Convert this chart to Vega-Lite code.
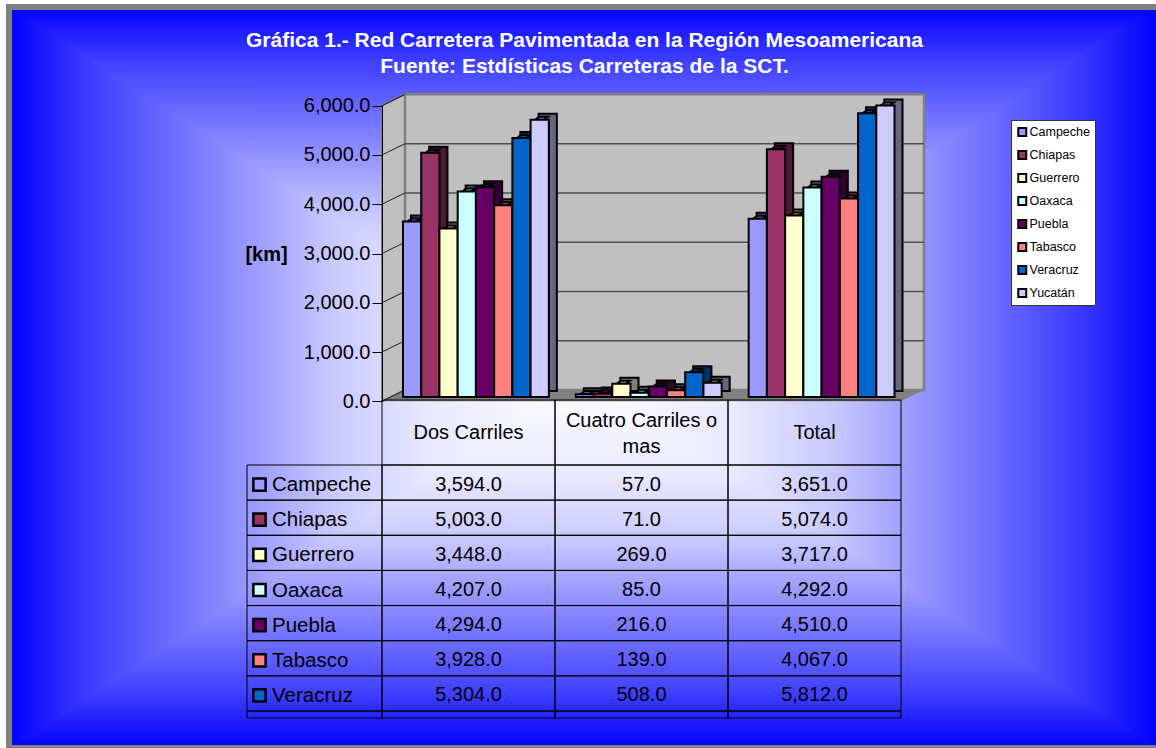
{
"$schema":"https://vega.github.io/schema/vega-lite/v6.json",
"width":1147,"height":741,"autosize":"none",
"padding":{"left":9,"top":7,"right":0,"bottom":0},
"background":"white",
"view":{"fill":"#9090FF","stroke":null},
"title":{"text":["Gráfica 1.- Red Carretera Pavimentada en la Región Mesoamericana","Fuente: Estdísticas Carreteras de la SCT."],"anchor":"middle","frame":"group","offset":-91,"dx":2,"font":"Liberation Sans","fontSize":21,"fontWeight":"bold","color":"#FFFFFF","lineHeight":26,"baseline":"alphabetic"},
"config":{"font":"Liberation Sans","legend":{"labelFont":"Liberation Sans"}},
"datasets":{
"roads":[
{"series":"Campeche","category":"Dos Carriles","value":3594},{"series":"Campeche","category":"Cuatro Carriles o mas","value":57},{"series":"Campeche","category":"Total","value":3651},
{"series":"Chiapas","category":"Dos Carriles","value":5003},{"series":"Chiapas","category":"Cuatro Carriles o mas","value":71},{"series":"Chiapas","category":"Total","value":5074},
{"series":"Guerrero","category":"Dos Carriles","value":3448},{"series":"Guerrero","category":"Cuatro Carriles o mas","value":269},{"series":"Guerrero","category":"Total","value":3717},
{"series":"Oaxaca","category":"Dos Carriles","value":4207},{"series":"Oaxaca","category":"Cuatro Carriles o mas","value":85},{"series":"Oaxaca","category":"Total","value":4292},
{"series":"Puebla","category":"Dos Carriles","value":4294},{"series":"Puebla","category":"Cuatro Carriles o mas","value":216},{"series":"Puebla","category":"Total","value":4510},
{"series":"Tabasco","category":"Dos Carriles","value":3928},{"series":"Tabasco","category":"Cuatro Carriles o mas","value":139},{"series":"Tabasco","category":"Total","value":4067},
{"series":"Veracruz","category":"Dos Carriles","value":5304},{"series":"Veracruz","category":"Cuatro Carriles o mas","value":508},{"series":"Veracruz","category":"Total","value":5812},
{"series":"Yucatán","category":"Dos Carriles","value":5680},{"series":"Yucatán","category":"Cuatro Carriles o mas","value":290},{"series":"Yucatán","category":"Total","value":5970}],
"edgeNear":[{"a":0,"b":0,"c":0},{"a":0.5,"b":0,"c":0.5},{"a":1,"b":0,"c":0}],
"edgeFar":[{"a":0,"b":1,"c":1},{"a":0.5,"b":1,"c":0.5},{"a":1,"b":1,"c":1}],
"grid":[{"v":0,"v2":230},{"v":1000,"v2":1230},{"v":2000,"v2":2230},{"v":3000,"v2":3230},{"v":4000,"v2":4230},{"v":5000,"v2":5230},{"v":6000,"v2":6230}]
},
"data":{"name":"roads"},
"resolve":{"scale":{"x":"independent","y":"independent","xOffset":"independent","fill":"independent"}},
"layer":[
{"data":{"name":"edgeNear"},"mark":{"type":"area","strokeWidth":2,"stroke":{"gradient":"linear","x1":0,"y1":0,"x2":0,"y2":1,"stops":[{"offset":0,"color":"#0000FF"},{"offset":0.15,"color":"#4040FF"},{"offset":0.42,"color":"#9999FF"},{"offset":0.56,"color":"#C8C8FF"},{"offset":0.73,"color":"#E8E8FF"},{"offset":1,"color":"#FFFFFF"}]},"fill":{"gradient":"linear","x1":0,"y1":0,"x2":0,"y2":1,"stops":[{"offset":0,"color":"#0000FF"},{"offset":0.15,"color":"#4040FF"},{"offset":0.42,"color":"#9999FF"},{"offset":0.56,"color":"#C8C8FF"},{"offset":0.73,"color":"#E8E8FF"},{"offset":1,"color":"#FFFFFF"}]}},
 "encoding":{"x":{"field":"a","type":"quantitative","axis":null,"scale":{"domain":[0,1],"range":[0,1147]}},"y":{"field":"b","type":"quantitative","axis":null,"scale":{"domain":[0,1],"range":[0,741]}},"y2":{"field":"c"}}},
{"data":{"name":"edgeFar"},"mark":{"type":"area","strokeWidth":2,"stroke":{"gradient":"linear","x1":0,"y1":1,"x2":0,"y2":0,"stops":[{"offset":0,"color":"#0000FF"},{"offset":0.15,"color":"#4040FF"},{"offset":0.42,"color":"#9999FF"},{"offset":0.56,"color":"#C8C8FF"},{"offset":0.73,"color":"#E8E8FF"},{"offset":1,"color":"#FFFFFF"}]},"fill":{"gradient":"linear","x1":0,"y1":1,"x2":0,"y2":0,"stops":[{"offset":0,"color":"#0000FF"},{"offset":0.15,"color":"#4040FF"},{"offset":0.42,"color":"#9999FF"},{"offset":0.56,"color":"#C8C8FF"},{"offset":0.73,"color":"#E8E8FF"},{"offset":1,"color":"#FFFFFF"}]}},
 "encoding":{"x":{"field":"a","type":"quantitative","axis":null,"scale":{"domain":[0,1],"range":[0,1147]}},"y":{"field":"b","type":"quantitative","axis":null,"scale":{"domain":[0,1],"range":[0,741]}},"y2":{"field":"c"}}},
{"data":{"name":"edgeNear"},"mark":{"type":"area","orient":"horizontal","strokeWidth":2,"stroke":{"gradient":"linear","x1":0,"y1":0,"x2":1,"y2":0,"stops":[{"offset":0,"color":"#0000FF"},{"offset":0.15,"color":"#4040FF"},{"offset":0.42,"color":"#9999FF"},{"offset":0.56,"color":"#C8C8FF"},{"offset":0.73,"color":"#E8E8FF"},{"offset":1,"color":"#FFFFFF"}]},"fill":{"gradient":"linear","x1":0,"y1":0,"x2":1,"y2":0,"stops":[{"offset":0,"color":"#0000FF"},{"offset":0.15,"color":"#4040FF"},{"offset":0.42,"color":"#9999FF"},{"offset":0.56,"color":"#C8C8FF"},{"offset":0.73,"color":"#E8E8FF"},{"offset":1,"color":"#FFFFFF"}]}},
 "encoding":{"y":{"field":"a","type":"quantitative","axis":null,"scale":{"domain":[0,1],"range":[0,741]}},"x":{"field":"b","type":"quantitative","axis":null,"scale":{"domain":[0,1],"range":[0,1147]}},"x2":{"field":"c"}}},
{"data":{"name":"edgeFar"},"mark":{"type":"area","orient":"horizontal","strokeWidth":2,"stroke":{"gradient":"linear","x1":1,"y1":0,"x2":0,"y2":0,"stops":[{"offset":0,"color":"#0000FF"},{"offset":0.15,"color":"#4040FF"},{"offset":0.42,"color":"#9999FF"},{"offset":0.56,"color":"#C8C8FF"},{"offset":0.73,"color":"#E8E8FF"},{"offset":1,"color":"#FFFFFF"}]},"fill":{"gradient":"linear","x1":1,"y1":0,"x2":0,"y2":0,"stops":[{"offset":0,"color":"#0000FF"},{"offset":0.15,"color":"#4040FF"},{"offset":0.42,"color":"#9999FF"},{"offset":0.56,"color":"#C8C8FF"},{"offset":0.73,"color":"#E8E8FF"},{"offset":1,"color":"#FFFFFF"}]}},
 "encoding":{"y":{"field":"a","type":"quantitative","axis":null,"scale":{"domain":[0,1],"range":[0,741]}},"x":{"field":"b","type":"quantitative","axis":null,"scale":{"domain":[0,1],"range":[0,1147]}},"x2":{"field":"c"}}},
{"data":{"values":[{"e":0}]},"mark":{"type":"rule","stroke":"#808080","strokeWidth":6,"strokeCap":"square"},
 "encoding":{"x":{"field":"e","type":"quantitative","axis":null,"scale":{"domain":[0,1],"range":[0,1147]}}}},
{"data":{"values":[{"e":0},{"e":1}]},"mark":{"type":"rule","stroke":"#808080","strokeWidth":6,"strokeCap":"square"},
 "encoding":{"y":{"field":"e","type":"quantitative","axis":null,"scale":{"domain":[0,1],"range":[0,741]}}}},
{"data":{"values":[{"d":0,"lo":0,"hi":6000},{"d":0.133,"lo":230,"hi":6230}]},"mark":{"type":"area","fill":"#C0C0C0","stroke":"#808080","strokeWidth":2},
 "encoding":{"x":{"field":"d","type":"quantitative","axis":null,"scale":{"domain":[0,3],"range":[373,892]}},"y":{"field":"lo","type":"quantitative","axis":null,"scale":{"domain":[0,6000],"range":[394.3,98.7]}},"y2":{"field":"hi"}}},
{"data":{"values":[{"h":0,"l":0,"r":3},{"h":230,"l":0.133,"r":3.133}]},"mark":{"type":"area","orient":"horizontal","fill":"#808080"},
 "encoding":{"y":{"field":"h","type":"quantitative","axis":null,"scale":{"domain":[0,6000],"range":[394.3,98.7]}},"x":{"field":"l","type":"quantitative","axis":null,"scale":{"domain":[0,3],"range":[373,892]}},"x2":{"field":"r"}}},
{"data":{"values":[{"xa":0.133,"xb":3.133,"ya":230,"yb":6230}]},"mark":{"type":"rect","fill":"#C0C0C0","stroke":"#808080","strokeWidth":2.5},
 "encoding":{"x":{"field":"xa","type":"quantitative","axis":null,"scale":{"domain":[0,3],"range":[373,892]}},"x2":{"field":"xb"},"y":{"field":"ya","type":"quantitative","axis":null,"scale":{"domain":[0,6000],"range":[394.3,98.7]}},"y2":{"field":"yb"}}},
{"data":{"name":"grid"},"transform":[{"filter":"datum.v > 0 && datum.v < 6000"}],"mark":{"type":"rule","stroke":"#505050","strokeWidth":1.5},
 "encoding":{"x":{"datum":0.133,"type":"quantitative","axis":null,"scale":{"domain":[0,3],"range":[373,892]}},"x2":{"datum":3.133},"y":{"field":"v2","type":"quantitative","axis":null,"scale":{"domain":[0,6000],"range":[394.3,98.7]}}}},
{"data":{"name":"grid"},"mark":{"type":"rule","stroke":"#202020","strokeWidth":1},
 "encoding":{"x":{"datum":0,"type":"quantitative","axis":null,"scale":{"domain":[0,3],"range":[373,892]}},"x2":{"datum":0.133},
  "y":{"field":"v","type":"quantitative","scale":{"domain":[0,6000],"range":[394.3,98.7]},
   "axis":{"orient":"left","offset":-373,"zindex":1,"values":[0,1000,2000,3000,4000,5000,6000],"format":",.1f","grid":false,"tickSize":10,"tickColor":"#000000","tickWidth":1,"domainColor":"#000000","domainWidth":1,"labelFont":"Liberation Sans","labelFontSize":20,"labelColor":"#000000","labelPadding":2,"title":"[km]","titleFont":"Liberation Sans","titleFontSize":20,"titleFontWeight":"bold","titleColor":"#000000","titleAngle":0,"titleAlign":"center","titleBaseline":"middle","titleX":-116,"titleY":247}},
  "y2":{"field":"v2"}}},
{"mark":{"type":"bar","stroke":"#000000","strokeWidth":2},
 "encoding":{"x":{"field":"category","type":"nominal","sort":null,"axis":null,"scale":{"type":"band","domain":["Dos Carriles","Cuatro Carriles o mas","Total"],"range":[388.5,907],"paddingInner":0,"paddingOuter":0}},
  "xOffset":{"field":"series","type":"nominal","scale":{"type":"band","domain":["Campeche","Chiapas","Guerrero","Oaxaca","Puebla","Tabasco","Veracruz","Yucatán"],"paddingInner":0,"paddingOuter":0.74}},
  "y":{"field":"value","type":"quantitative","axis":null,"scale":{"domain":[0,6000],"range":[384,91]}},
  "fill":{"field":"series","type":"nominal","legend":null,"scale":{"domain":["Campeche","Chiapas","Guerrero","Oaxaca","Puebla","Tabasco","Veracruz","Yucatán"],"range":["#4D4D80","#4D1A33","#808066","#668080","#330033","#804040","#003366","#666680"]}}}},
{"mark":{"type":"point","shape":"M9.1 0L9.1 -6L17.1 -6Z","size":1,"filled":true,"opacity":1,"strokeWidth":0},
 "encoding":{"x":{"field":"category","type":"nominal","axis":null,"scale":{"type":"band","domain":["Dos Carriles","Cuatro Carriles o mas","Total"],"range":[380.5,899],"paddingInner":0,"paddingOuter":0}},
  "xOffset":{"field":"series","type":"nominal","scale":{"type":"band","domain":["Campeche","Chiapas","Guerrero","Oaxaca","Puebla","Tabasco","Veracruz","Yucatán"],"paddingInner":0,"paddingOuter":0.74}},
  "y":{"datum":0,"type":"quantitative","axis":null,"scale":{"domain":[0,6000],"range":[390,97]}},
  "fill":{"field":"series","type":"nominal","legend":null,"scale":{"domain":["Campeche","Chiapas","Guerrero","Oaxaca","Puebla","Tabasco","Veracruz","Yucatán"],"range":["#4D4D80","#4D1A33","#808066","#668080","#330033","#804040","#003366","#666680"]}}}},
{"mark":{"type":"point","shape":"M9.1 0L17.1 -6","size":1,"filled":false,"opacity":1,"stroke":"#000000","strokeWidth":2},
 "encoding":{"x":{"field":"category","type":"nominal","axis":null,"scale":{"type":"band","domain":["Dos Carriles","Cuatro Carriles o mas","Total"],"range":[380.5,899],"paddingInner":0,"paddingOuter":0}},
  "xOffset":{"field":"series","type":"nominal","scale":{"type":"band","domain":["Campeche","Chiapas","Guerrero","Oaxaca","Puebla","Tabasco","Veracruz","Yucatán"],"paddingInner":0,"paddingOuter":0.74}},
  "y":{"datum":0,"type":"quantitative","axis":null,"scale":{"domain":[0,6000],"range":[390,97]}}}},
{"mark":{"type":"point","shape":"M-9.1 0L9.1 0L17.1 -6L-1.1 -6Z","size":1,"filled":true,"opacity":1,"stroke":"#000000","strokeWidth":2},
 "encoding":{"x":{"field":"category","type":"nominal","axis":null,"scale":{"type":"band","domain":["Dos Carriles","Cuatro Carriles o mas","Total"],"range":[380.5,899],"paddingInner":0,"paddingOuter":0}},
  "xOffset":{"field":"series","type":"nominal","scale":{"type":"band","domain":["Campeche","Chiapas","Guerrero","Oaxaca","Puebla","Tabasco","Veracruz","Yucatán"],"paddingInner":0,"paddingOuter":0.74}},
  "y":{"field":"value","type":"quantitative","axis":null,"scale":{"domain":[0,6000],"range":[390,97]}},
  "fill":{"field":"series","type":"nominal","legend":null,"scale":{"domain":["Campeche","Chiapas","Guerrero","Oaxaca","Puebla","Tabasco","Veracruz","Yucatán"],"range":["#7373BF","#732644","#BFBF99","#99BFBF","#4D004D","#BF6060","#004D99","#9999BF"]}}}},
{"mark":{"type":"bar","stroke":"#000000","strokeWidth":2},
 "encoding":{"x":{"field":"category","type":"nominal","axis":null,"scale":{"type":"band","domain":["Dos Carriles","Cuatro Carriles o mas","Total"],"range":[380.5,899],"paddingInner":0,"paddingOuter":0}},
  "xOffset":{"field":"series","type":"nominal","scale":{"type":"band","domain":["Campeche","Chiapas","Guerrero","Oaxaca","Puebla","Tabasco","Veracruz","Yucatán"],"paddingInner":0,"paddingOuter":0.74}},
  "y":{"field":"value","type":"quantitative","axis":null,"scale":{"domain":[0,6000],"range":[390,97]}},
  "fill":{"field":"series","type":"nominal","scale":{"domain":["Campeche","Chiapas","Guerrero","Oaxaca","Puebla","Tabasco","Veracruz","Yucatán"],"range":["#9999FF","#993366","#FFFFCC","#CCFFFF","#660066","#FF8080","#0066CC","#CCCCFF"]},
   "legend":{"title":null,"orient":"none","legendX":1002,"legendY":113,"fillColor":"#FFFFFF","strokeColor":"#333333","padding":5,"symbolType":"square","symbolSize":64,"symbolStrokeColor":"#000000","symbolStrokeWidth":2,"labelFont":"Liberation Sans","labelFontSize":12.5,"labelColor":"#000000","labelOffset":1,"rowPadding":9,"clipHeight":14}}}},
{"transform":[{"filter":"datum.series !== 'Yucatán'"}],"mark":{"type":"rect","fill":null,"stroke":"#000000","strokeWidth":1},
 "encoding":{"x":{"field":"category","type":"nominal","axis":null,"scale":{"type":"band","domain":["Dos Carriles","Cuatro Carriles o mas","Total"],"range":[373,892],"paddingInner":0,"paddingOuter":0}},
  "y":{"field":"series","type":"nominal","axis":null,"scale":{"type":"band","domain":["Campeche","Chiapas","Guerrero","Oaxaca","Puebla","Tabasco","Veracruz"],"range":[458,704],"paddingInner":0,"paddingOuter":0}}}},
{"transform":[{"filter":"datum.series === 'Yucatán'"}],"mark":{"type":"rect","fill":null,"stroke":"#000000","strokeWidth":1},
 "encoding":{"x":{"field":"category","type":"nominal","axis":null,"scale":{"type":"band","domain":["Dos Carriles","Cuatro Carriles o mas","Total"],"range":[373,892],"paddingInner":0,"paddingOuter":0}},
  "y":{"field":"series","type":"nominal","axis":null,"scale":{"type":"band","domain":["Yucatán"],"range":[704,711],"paddingInner":0,"paddingOuter":0}}}},
{"transform":[{"filter":"datum.series === 'Campeche'"}],"mark":{"type":"rect","fill":null,"stroke":"#000000","strokeWidth":1},
 "encoding":{"x":{"field":"category","type":"nominal","axis":null,"scale":{"type":"band","domain":["Dos Carriles","Cuatro Carriles o mas","Total"],"range":[373,892],"paddingInner":0,"paddingOuter":0}},
  "y":{"datum":"Encabezado","type":"nominal","axis":null,"scale":{"type":"band","domain":["Encabezado"],"range":[393,458],"paddingInner":0,"paddingOuter":0}}}},
{"transform":[{"filter":"datum.category === 'Total' && datum.series !== 'Yucatán'"}],"mark":{"type":"rect","fill":null,"stroke":"#000000","strokeWidth":1},
 "encoding":{"x":{"datum":"Serie","type":"nominal","axis":null,"scale":{"type":"band","domain":["Serie"],"range":[238,373],"paddingInner":0,"paddingOuter":0}},
  "y":{"field":"series","type":"nominal","axis":null,"scale":{"type":"band","domain":["Campeche","Chiapas","Guerrero","Oaxaca","Puebla","Tabasco","Veracruz"],"range":[458,704],"paddingInner":0,"paddingOuter":0}}}},
{"transform":[{"filter":"datum.category === 'Total' && datum.series === 'Yucatán'"}],"mark":{"type":"rect","fill":null,"stroke":"#000000","strokeWidth":1},
 "encoding":{"x":{"datum":"Serie","type":"nominal","axis":null,"scale":{"type":"band","domain":["Serie"],"range":[238,373],"paddingInner":0,"paddingOuter":0}},
  "y":{"field":"series","type":"nominal","axis":null,"scale":{"type":"band","domain":["Yucatán"],"range":[704,711],"paddingInner":0,"paddingOuter":0}}}},
{"data":{"values":[{"category":"Dos Carriles","label":"Dos Carriles"},{"category":"Total","label":"Total"}]},
 "mark":{"type":"text","font":"Liberation Sans","fontSize":20,"color":"#000000","baseline":"middle"},
 "encoding":{"x":{"field":"category","type":"nominal","axis":null,"scale":{"type":"band","domain":["Dos Carriles","Cuatro Carriles o mas","Total"],"range":[373,892],"paddingInner":0,"paddingOuter":0}},
  "y":{"datum":"Encabezado","type":"nominal","axis":null,"scale":{"type":"band","domain":["Encabezado"],"range":[393,458],"paddingInner":0,"paddingOuter":0}},
  "text":{"field":"label","type":"nominal"}}},
{"data":{"values":[{"category":"Cuatro Carriles o mas","label":"Cuatro Carriles o\nmas"}]},
 "mark":{"type":"text","font":"Liberation Sans","fontSize":20,"color":"#000000","lineBreak":"\n","lineHeight":26,"baseline":"middle","dy":-12},
 "encoding":{"x":{"field":"category","type":"nominal","axis":null,"scale":{"type":"band","domain":["Dos Carriles","Cuatro Carriles o mas","Total"],"range":[373,892],"paddingInner":0,"paddingOuter":0}},
  "y":{"datum":"Encabezado","type":"nominal","axis":null,"scale":{"type":"band","domain":["Encabezado"],"range":[393,458],"paddingInner":0,"paddingOuter":0}},
  "text":{"field":"label","type":"nominal"}}},
{"transform":[{"filter":"datum.series !== 'Yucatán'"}],"mark":{"type":"text","font":"Liberation Sans","fontSize":20,"color":"#000000","baseline":"middle","dy":2},
 "encoding":{"x":{"field":"category","type":"nominal","axis":null,"scale":{"type":"band","domain":["Dos Carriles","Cuatro Carriles o mas","Total"],"range":[373,892],"paddingInner":0,"paddingOuter":0}},
  "y":{"field":"series","type":"nominal","axis":null,"scale":{"type":"band","domain":["Campeche","Chiapas","Guerrero","Oaxaca","Puebla","Tabasco","Veracruz"],"range":[458,704],"paddingInner":0,"paddingOuter":0}},
  "text":{"field":"value","type":"quantitative","format":",.1f"}}},
{"transform":[{"filter":"datum.category === 'Total' && datum.series !== 'Yucatán'"}],"mark":{"type":"text","font":"Liberation Sans","fontSize":20.5,"color":"#000000","baseline":"middle","align":"left","dx":-42.5,"dy":2.5},
 "encoding":{"x":{"datum":"Serie","type":"nominal","axis":null,"scale":{"type":"band","domain":["Serie"],"range":[238,373],"paddingInner":0,"paddingOuter":0}},
  "y":{"field":"series","type":"nominal","axis":null,"scale":{"type":"band","domain":["Campeche","Chiapas","Guerrero","Oaxaca","Puebla","Tabasco","Veracruz"],"range":[458,704],"paddingInner":0,"paddingOuter":0}},
  "text":{"field":"series","type":"nominal"}}},
{"transform":[{"filter":"datum.category === 'Total' && datum.series !== 'Yucatán'"}],"mark":{"type":"point","shape":"square","size":150,"filled":true,"opacity":1,"stroke":"#000000","strokeWidth":2.5,"xOffset":-55,"yOffset":2},
 "encoding":{"x":{"datum":"Serie","type":"nominal","axis":null,"scale":{"type":"band","domain":["Serie"],"range":[238,373],"paddingInner":0,"paddingOuter":0}},
  "y":{"field":"series","type":"nominal","axis":null,"scale":{"type":"band","domain":["Campeche","Chiapas","Guerrero","Oaxaca","Puebla","Tabasco","Veracruz"],"range":[458,704],"paddingInner":0,"paddingOuter":0}},
  "fill":{"field":"series","type":"nominal","legend":null,"scale":{"domain":["Campeche","Chiapas","Guerrero","Oaxaca","Puebla","Tabasco","Veracruz","Yucatán"],"range":["#9999FF","#993366","#FFFFCC","#CCFFFF","#660066","#FF8080","#0066CC","#CCCCFF"]}}}}
]}
